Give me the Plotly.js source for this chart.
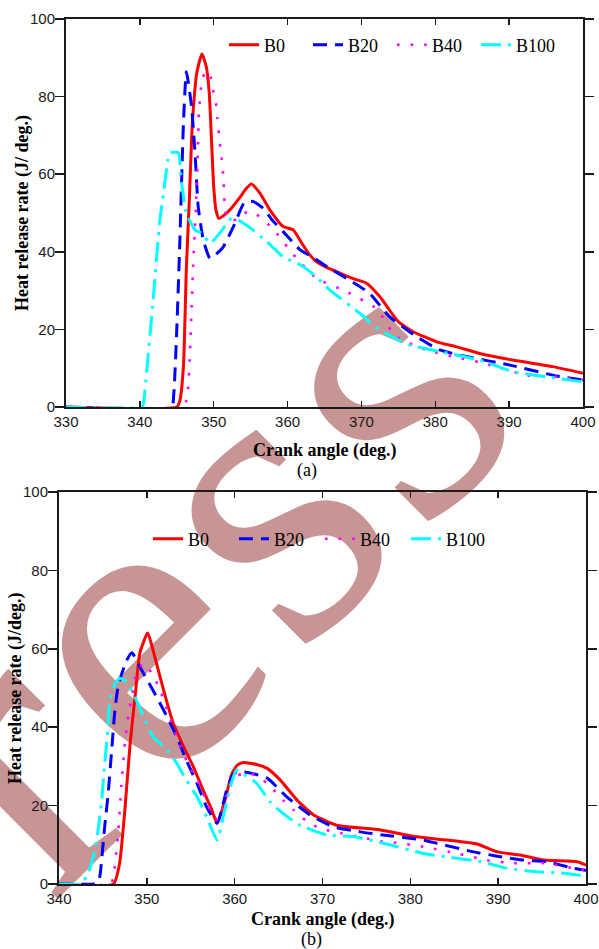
<!DOCTYPE html>
<html>
<head>
<meta charset="utf-8">
<script src="https://cdn.plot.ly/plotly-3.0.1.min.js"></script>
<style>
  html, body { margin: 0; padding: 0; background: #fff; }
  #wrap { position: relative; width: 599px; height: 949px; overflow: hidden; }
  #stamp { position: absolute; left: 0; top: 0; }
  #chart { position: absolute; left: 0; top: 0; width: 599px; height: 949px; }
</style>
</head>
<body>
<div id="wrap">
  <!-- publisher stamp lying behind both panels -->
  <svg id="stamp" width="599" height="949">
    <text x="52" y="905" transform="rotate(-45 52 905)" letter-spacing="10"
          font-family="Liberation Serif" font-size="420" fill="#C89595">ress</text>
  </svg>
  <div id="chart"></div>
</div>
<script>
// ---- panel (a): heat release rate, crank angle 330-400 deg ----
const aB0x   = [330, 345, 345.4, 345.9, 346.3, 346.7, 347, 347.2, 347.7, 348.4, 349.0, 349.4, 349.7, 350.0, 350.3, 350.7, 351.7, 352.5, 353.5, 354.4, 355.1, 356.3, 357.6, 359.4, 360.8, 362, 363, 363.9, 365.5, 367.1, 369, 370.7, 372.5, 375, 377, 380.2, 382.9, 386, 390.5, 395.9, 400];
const aB0y   = [0, 0, 1.5, 10.4, 36, 53.4, 68.8, 75.8, 86, 91, 87.7, 80.8, 68.8, 56.8, 50.8, 48.6, 49.9, 51.5, 53.9, 56.3, 57.5, 55, 50.8, 46.5, 45.6, 42, 39.2, 37.5, 35.8, 34.5, 33, 31.9, 28.4, 22, 19.4, 16.8, 15.5, 13.8, 12.1, 10.4, 8.7];

const aB20x  = [330, 344.3, 344.6, 345.0, 345.4, 345.9, 346.3, 347.0, 347.5, 347.9, 348.6, 349.5, 350.4, 351.3, 352.8, 354.1, 355.3, 356.7, 358.0, 359.4, 361.7, 363.5, 365.3, 368.4, 371.1, 373.8, 377.5, 380.6, 384.2, 390.1, 396.4, 400];
const aB20y  = [0, 0, 3.6, 20, 42, 73, 86.4, 77.4, 64.5, 51.6, 43, 38.3, 39.5, 41.3, 47, 52.5, 53, 51.2, 48, 45.2, 40.5, 38.5, 36.2, 32.7, 29.3, 23.3, 18.1, 14.7, 13, 10.8, 8, 7];

const aB40x  = [330, 345.8, 346.4, 346.8, 347.2, 347.6, 347.8, 348.0, 348.4, 348.9, 349.5, 349.9, 350.3, 350.5, 350.7, 350.9, 351.1, 351.3, 351.5, 351.8, 353.1, 354.5, 355.5, 358.0, 360.8, 363.9, 368.0, 372.0, 374.7, 378.8, 382.4, 386.5, 392.3, 396.4, 400];
const aB40y  = [0, 0, 2.3, 15, 36, 52, 62, 76, 84, 86.5, 85.6, 81.7, 78.3, 74.4, 70.5, 67, 63.7, 59.4, 52, 48.6, 48.2, 50.3, 50, 46, 39.2, 33.2, 29.7, 25.4, 18.1, 14.7, 13, 11.3, 8.2, 7.8, 7];

const aB100x = [330, 340.3, 340.5, 340.9, 341.8, 342.7, 343.2, 343.8, 344.1, 345.2, 345.6, 346.3, 347.5, 348.4, 349.5, 350.8, 352.4, 353.3, 354.7, 357.2, 359.4, 360.8, 362.1, 363.9, 365.7, 369.8, 372.5, 376.5, 380.6, 386, 390.5, 395, 400];
const aB100y = [0, 0, 1, 8.7, 27.6, 48, 55, 63.7, 65.5, 65.5, 58.5, 49.9, 45.6, 44.8, 42.2, 44.8, 48.6, 48.2, 46.5, 42.6, 38.7, 37.5, 36.2, 33.5, 30.2, 24.1, 19.8, 16, 14.3, 12.1, 9.1, 7.8, 6.5];

// ---- panel (b): heat release rate, crank angle 340-400 deg ----
const bB0x   = [340, 346.2, 346.9, 347.5, 348.1, 348.7, 349.2, 350.1, 350.9, 351.9, 353, 354.2, 355.3, 356.4, 357.4, 358, 358.9, 359.7, 360.3, 361, 362.5, 363.7, 365.2, 367.1, 369, 371.6, 376.6, 380.4, 384.2, 387.6, 389.9, 392.5, 395.2, 399, 400];
const bB0y   = [0, 0, 5.3, 18.9, 35.9, 48.6, 58.9, 64, 58, 49.5, 41, 35, 29.9, 24, 18.9, 15.5, 21.4, 28.2, 30.3, 31, 30.5, 29.5, 26.5, 21.4, 17.6, 15, 13.8, 12.1, 11.2, 10.2, 8.2, 7.4, 6.1, 5.7, 4.8];

const bB20x  = [340, 343.9, 344.5, 344.7, 345.2, 345.6, 346, 346.4, 346.8, 347.7, 348.3, 349.4, 350.9, 352.3, 353.4, 354.5, 355.7, 356.8, 358, 359.1, 359.9, 361.1, 363.7, 365.9, 368.6, 371.2, 374.3, 376.9, 381.5, 383, 387.2, 389.9, 392.9, 395.5, 398.6, 400];
const bB20y  = [0, 0, 0.6, 2.7, 14.6, 23.1, 34.2, 45.2, 51.2, 57, 59, 54.6, 48.6, 42.7, 37.6, 31.6, 25.7, 19.7, 15.5, 24, 28.2, 28.6, 27, 22.3, 17.6, 14.6, 13.3, 12.5, 11.2, 10.4, 8.2, 7.1, 6.1, 5.7, 4, 3.5];

const bB40x  = [340, 345.9, 346.2, 346.7, 347.1, 347.5, 347.9, 348.3, 348.8, 349.6, 350.6, 351.5, 353, 354.5, 356.1, 357.2, 358.1, 358.9, 359.9, 361.8, 363.7, 365.5, 366.7, 368.5, 370, 372, 376.9, 378.1, 381.5, 385.3, 388.7, 391.7, 395.5, 398.6, 400];
const bB40y  = [0, 0, 2, 12, 25, 36, 43, 48, 53.5, 56.3, 53.7, 49.5, 40.1, 31.6, 24.8, 18.9, 16.3, 21.4, 27.4, 28.2, 25.7, 21.4, 18.9, 15.5, 14, 13, 10.8, 10.6, 9.5, 7.8, 6.1, 5.3, 5.3, 4, 3.5];

const bB100x = [340, 342.4, 342.6, 343.2, 344.1, 344.5, 344.9, 345.2, 345.5, 345.8, 346.2, 346.9, 347.7, 348.7, 349.8, 350.7, 352.3, 353.4, 354.5, 355.7, 356.8, 358, 358.7, 359.5, 360.2, 360.6, 362.5, 364, 365.5, 367.4, 370.5, 373.5, 377.3, 381.5, 384.5, 388, 391, 394.4, 397.8, 400];
const bB100y = [0, 0, 0.6, 1.9, 8.7, 14.6, 22.3, 30.8, 37.6, 46.9, 50.3, 52.5, 51.6, 47.4, 41.8, 37.6, 34.2, 30.8, 26.5, 22.3, 17.2, 11.2, 17.2, 24.8, 29.1, 28.6, 25.7, 21, 18, 15, 12.5, 12.1, 10.2, 7.8, 6.8, 5.7, 4, 3.1, 2.7, 2];

const seriesNames = ['B0', 'B20', 'B40', 'B100'];
const yTicks = [0, 20, 40, 60, 80, 100];
const xTicksA = [330, 340, 350, 360, 370, 380, 390, 400];
const xTicksB = [340, 350, 360, 370, 380, 390, 400];

const styles = [
  { color: '#FF0000', width: 3,   dash: 'solid' },
  { color: '#0000FF', width: 3,   dash: '14px,8px' },
  { color: '#FF00FF', width: 2.6, dash: '2.6px,11px' },
  { color: '#00FFFF', width: 3,   dash: '20px,7px,3px,7px' }
];

function mk(x, y, i, xa, ya, leg) {
  return {
    type: 'scatter', mode: 'lines', x: x, y: y, name: seriesNames[i],
    xaxis: xa, yaxis: ya, legend: leg,
    line: { color: styles[i].color, width: styles[i].width, dash: styles[i].dash,
            shape: 'spline', smoothing: 0.5 },
    hoverinfo: 'skip'
  };
}

const traces = [
  mk(aB0x, aB0y, 0, 'x', 'y', 'legend'),
  mk(aB20x, aB20y, 1, 'x', 'y', 'legend'),
  mk(aB40x, aB40y, 2, 'x', 'y', 'legend'),
  mk(aB100x, aB100y, 3, 'x', 'y', 'legend'),
  mk(bB0x, bB0y, 0, 'x2', 'y2', 'legend2'),
  mk(bB20x, bB20y, 1, 'x2', 'y2', 'legend2'),
  mk(bB40x, bB40y, 2, 'x2', 'y2', 'legend2'),
  mk(bB100x, bB100y, 3, 'x2', 'y2', 'legend2')
];

const ink = '#1a1a1a';
const serif = 'Liberation Serif, Times New Roman, serif';
const tickFont = { family: 'Liberation Sans, Arial, sans-serif', size: 15, color: ink };
const titleFont = { family: serif, size: 18, color: '#000' };

function xAxis(dom, rng, vals, anchor) {
  return {
    domain: dom, anchor: anchor, range: rng, tickvals: vals, ticktext: vals.map(String),
    ticks: 'inside', ticklen: 6, tickwidth: 1.5, tickcolor: ink,
    showline: true, linewidth: 2, linecolor: ink, mirror: 'ticks',
    showgrid: false, zeroline: false, tickfont: tickFont, fixedrange: true
  };
}
function yAxis(dom, anchor) {
  return {
    domain: dom, anchor: anchor, range: [0, 100], tickvals: yTicks, ticktext: yTicks.map(String),
    ticks: 'outside', ticklen: 9, tickwidth: 1.5, tickcolor: ink, ticklabelstandoff: -3,
    showline: true, linewidth: 2, linecolor: ink, mirror: 'ticks',
    showgrid: false, zeroline: false, tickfont: tickFont, fixedrange: true
  };
}

const legendBase = {
  orientation: 'h', xanchor: 'left', yanchor: 'middle',
  font: { family: serif, size: 18, color: '#000' },
  bgcolor: 'rgba(0,0,0,0)', borderwidth: 0, itemwidth: 30,
  itemclick: false, itemdoubleclick: false
};

function label(text, px, py, angle) {
  return {
    text: text, xref: 'paper', yref: 'paper', x: px / 599, y: 1 - py / 949,
    xanchor: 'center', yanchor: 'middle', showarrow: false, textangle: angle || 0,
    font: titleFont
  };
}

const layout = {
  width: 599, height: 949,
  margin: { l: 0, r: 0, t: 0, b: 0 },
  paper_bgcolor: 'rgba(0,0,0,0)', plot_bgcolor: 'rgba(0,0,0,0)',
  showlegend: true,
  xaxis:  xAxis([66 / 599, 583 / 599], [330, 400], xTicksA, 'y'),
  yaxis:  yAxis([1 - 407 / 949, 1 - 19 / 949], 'x'),
  xaxis2: xAxis([59 / 599, 586 / 599], [340, 400], xTicksB, 'y2'),
  yaxis2: yAxis([1 - 884 / 949, 1 - 492 / 949], 'x2'),
  legend:  Object.assign({}, legendBase, { x: 224 / 599, y: 1 - 45 / 949, entrywidth: 39 }),
  legend2: Object.assign({}, legendBase, { x: 148 / 599, y: 1 - 539 / 949, entrywidth: 41 }),
  annotations: [
    label('<b>Heat release rate (J/ deg.)</b>', 22, 213, -90),
    label('<b>Crank angle (deg.)</b>', 324.5, 450),
    label('(a)', 307, 471),
    label('<b>Heat release rate (J/deg.)</b>', 15, 688, -90),
    label('<b>Crank angle (deg.)</b>', 322.5, 919),
    label('(b)', 311, 939.5)
  ]
};

Plotly.newPlot('chart', traces, layout, { displayModeBar: false, staticPlot: true });
</script>
</body>
</html>
